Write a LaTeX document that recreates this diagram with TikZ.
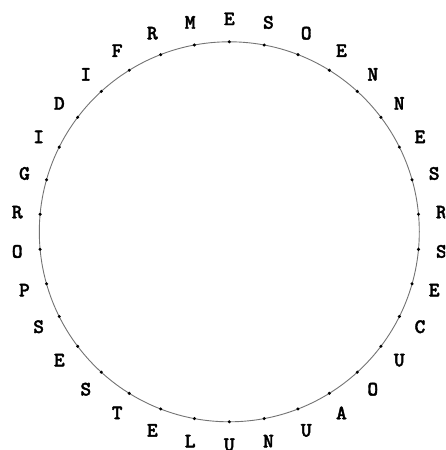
\documentclass[tikz,border=0pt]{standalone}
\usepackage{fontspec}
\newfontfamily\lettfont{lmmonolt10-bold.otf}[FakeBold=1.8]
\usetikzlibrary{calc}
\tikzset{
  ring/.style={draw=black!55, line width=0.9pt},
  dotmark/.style={circle, fill=black, inner sep=0pt, minimum size=3.4pt},
  letter/.style={font=\fontsize{20.5}{24}\selectfont\lettfont, inner sep=0pt, text=black}
}
\begin{document}
\begin{tikzpicture}[x=1pt,y=1pt]
\useasboundingbox (0,0) rectangle (445,450);
\clip (0,0) rectangle (445,450);
\coordinate (c) at (229.3,218.2);
\draw[ring] (c) circle[radius=190pt];
\foreach \l [count=\i from 0] in {E,S,O,E,N,N,E,S,R,S,E,C,U,O,A,U,N,U,L,E,T,S,E,S,P,O,R,G,I,D,I,F,R,M} {
  \pgfmathsetmacro\a{90-\i*360/34}
  \node[dotmark] (d\i) at ($(c)+(\a:190pt)$) {};
  \node[letter] (l\i) at ($(c)+(\a:213pt)$) {\l};
}
\end{tikzpicture}
\end{document}
